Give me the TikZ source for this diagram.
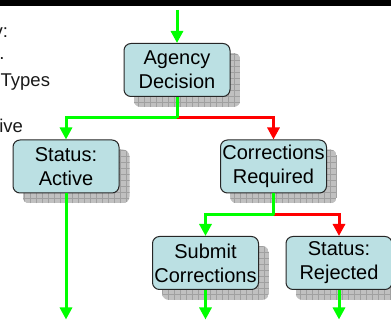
\documentclass[tikz,border=0pt]{standalone}
\usepackage{fontspec}
\setmainfont{Liberation Sans}
\usetikzlibrary{arrows.meta,backgrounds}
\definecolor{boxfill}{RGB}{187,224,227}
\definecolor{gr}{RGB}{0,255,0}
\definecolor{rd}{RGB}{255,0,0}
\definecolor{shadowgray}{RGB}{192,192,192}
\definecolor{gridgray}{RGB}{160,160,160}
\newcommand\sidefont{\fontsize{18.5}{22}\selectfont}
\tikzset{
  stepbox/.style={draw=black!85, line width=1pt, fill=boxfill, rounded corners=7pt,
    minimum width=106pt, minimum height=53pt, align=center,
    font=\fontsize{20}{24}\selectfont, inner sep=0pt},
  gline/.style={draw=gr, line width=3pt, -{Triangle[width=12pt,length=12pt]}},
  rline/.style={draw=rd, line width=3pt, -{Triangle[width=12pt,length=12pt]}},
  gplain/.style={draw=gr, line width=3pt},
  sidetext/.style={inner sep=0pt, outer sep=0pt, anchor=base east, text=black!90},
}
\newcommand\boxshadow[1]{%
  \begin{scope}
    \clip[rounded corners=7pt] ([shift={(10,10)}]#1.south west) rectangle ([shift={(10,10)}]#1.north east);
    \fill[shadowgray] ([shift={(10,10)}]#1.south west) rectangle ([shift={(10,10)}]#1.north east);
    \draw[gridgray, line width=0.6pt, step=6pt] ([shift={(10,10)}]#1.south west) grid ([shift={(10,10)}]#1.north east);
  \end{scope}}
\begin{document}
\begin{tikzpicture}[x=1pt,y=-1pt]
  \useasboundingbox (0,0) rectangle (391,320);
  \clip (0,0) rectangle (391,320);
  \fill[black] (0,0) rectangle (391,6.5);

  % side texts
  \node[sidetext] (t1) at (8,38) {\sidefont v:};
  \node[sidetext] (t2) at (4.5,60) {\sidefont .};
  \node[sidetext] (t3) at (50,87) {\sidefont Types};
  \node[sidetext] (t4) at (23,133) {\sidefont ive};

  % boxes
  \node[stepbox] (agency) at (177,70) {Agency\\Decision};
  \node[stepbox] (active) at (66,166.5) {Status:\\Active};
  \node[stepbox] (corr) at (273.5,166.5) {Corrections\\Required};
  \node[stepbox] (submit) at (205.5,263) {Submit\\Corrections};
  \node[stepbox] (rej) at (339,263) {Status:\\Rejected};

  \begin{scope}[on background layer]
    \boxshadow{agency}
    \boxshadow{active}
    \boxshadow{corr}
    \boxshadow{submit}
    \boxshadow{rej}
  \end{scope}

  % coordinates
  \coordinate (top) at (177,10);
  \coordinate (j1) at (177,118);
  \coordinate (j2) at (273.5,215);
  \coordinate (b1) at (66,319.5);
  \coordinate (b2) at (205.5,319.5);
  \coordinate (b3) at (339,319.5);

  % connectors
  \draw[gline] (top) -- (agency.north);
  \draw[rline] (j1) -| (corr.north);
  \draw[gplain] (agency.south) -- (j1);
  \draw[gline] (j1) -| (active.north);
  \draw[gline] (active.south) -- (b1);
  \draw[rline] (j2) -| (rej.north);
  \draw[gplain] (corr.south) -- (j2);
  \draw[gline] (j2) -| (submit.north);
  \draw[gline] (submit.south) -- (b2);
  \draw[gline] (rej.south) -- (b3);
\end{tikzpicture}
\end{document}
